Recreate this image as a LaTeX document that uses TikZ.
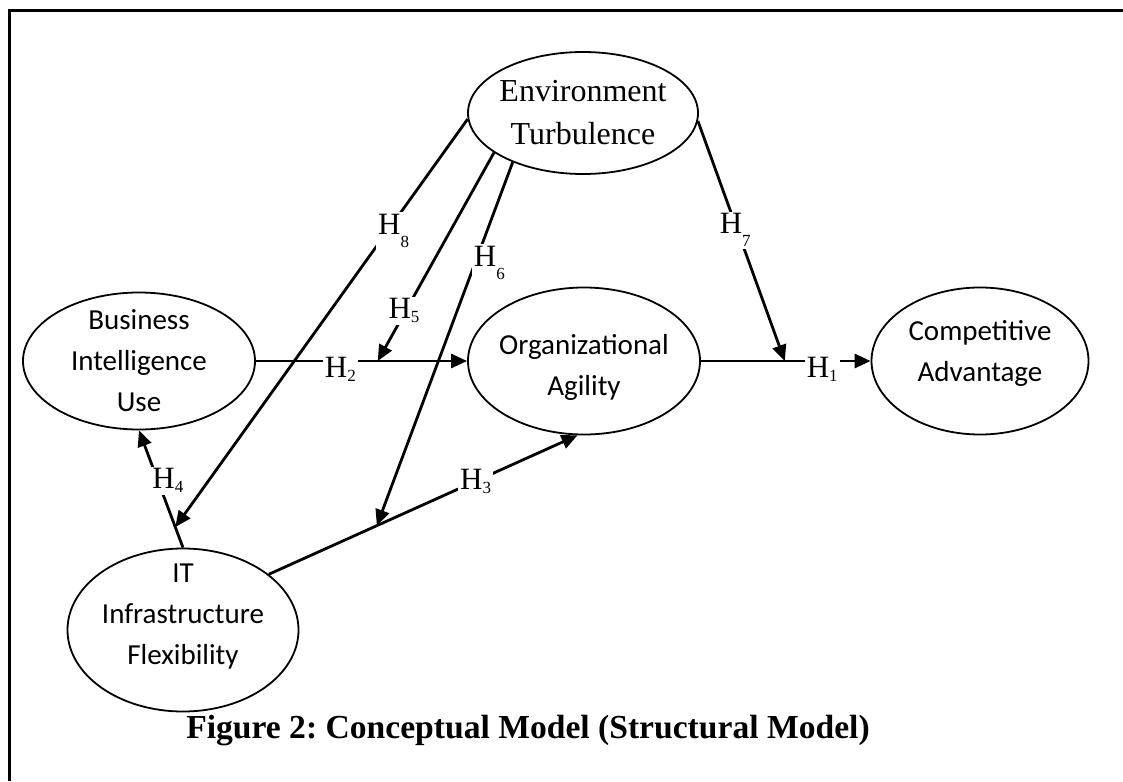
\documentclass[tikz,border=0pt]{standalone}
\usepackage{fontspec}
\setmainfont{Liberation Serif}
\newfontfamily\bodyfont{Carlito}
\usetikzlibrary{arrows.meta,calc,shapes.geometric}
\newcommand{\hyp}[1]{H\raisebox{-2pt}{\fontsize{8.5}{8.5}\selectfont#1}}
\newcommand{\hyplow}[1]{H\raisebox{-6.5pt}{\fontsize{8.5}{8.5}\selectfont#1}}
\frenchspacing
\begin{document}
\begin{tikzpicture}[x=0.5pt, y=-0.5pt,
  construct/.style={ellipse, draw, line width=0.9pt, inner sep=-8pt, align=center},
  sansbox/.style={construct, font=\bodyfont\fontsize{14.5}{20.5}\selectfont},
  serifbox/.style={construct, font=\fontsize{16}{21.5}\selectfont},
  link/.style={line width=1.4pt, -{Triangle[length=8pt,width=7pt]}},
  hlabel/.style={fill=white, inner sep=1pt, font=\fontsize{15.5}{15.5}\selectfont}]
  \useasboundingbox (0,0) rectangle (1123,781);
  \draw[line width=1.2pt] (9.5,781) |- (1123,10.5);
  \node[serifbox, minimum width=115pt, minimum height=61pt] (env) at (583,113) {Environment\\Turbulence};
  \node[sansbox, minimum width=116pt, minimum height=68.5pt] (bi) at (139,361) {Business\\Intelligence\\Use};
  \node[sansbox, minimum width=116pt, minimum height=73.5pt, text height=38pt, text depth=3.5pt] (oa) at (584,361) {Organizational\\Agility};
  \node[sansbox, minimum width=108.5pt, minimum height=73.5pt, text depth=10.5pt] (ca) at (980,361) {Competitive\\Advantage};
  \node[sansbox, minimum width=115.5pt, minimum height=81.5pt, text depth=15.5pt] (it) at (183,630) {IT\\Infrastructure\\Flexibility};
  \coordinate (m5) at ($(bi.east)!0.577!(oa.west)$);
  \coordinate (m7) at ($(oa.east)!0.494!(ca.west)$);
  \coordinate (m6) at ($(it.33)!0.35!(oa.265)$);
  \coordinate (m8) at ($(it.north)!0.175!(bi.south)$);
  \draw[link] (bi.east) -- node[hlabel, pos=0.40, yshift=-4pt] {\hyp{2}} (oa.west);
  \draw[link] (oa.east) -- node[hlabel, pos=0.715, yshift=-4pt] {\hyp{1}} (ca.west);
  \draw[link] (it.33) -- node[hlabel, pos=0.67] {\hyp{3}} (oa.265);
  \draw[link] (it.north) -- node[hlabel, pos=0.57, xshift=5pt] {\hyp{4}} (bi.south);
  \draw[link] (env.204) -- node[hlabel, pos=0.74, xshift=-2pt, yshift=-2pt] {\hyp{5}} (m5);
  \draw[link] (env.215) -- node[hlabel, pos=0.26, xshift=6pt, yshift=-3pt] {\hyplow{6}} (m6);
  \draw[link] (env.356) -- node[hlabel, pos=0.43, yshift=-3pt] {\hyplow{7}} (m7);
  \draw[link] (env.183) -- node[hlabel, pos=0.26, xshift=1pt, yshift=-3pt] {\hyplow{8}} (m8);
  \node[font=\bfseries\fontsize{16.8}{16.8}\selectfont] (caption) at (528,731) {Figure 2: Conceptual Model (Structural Model)};
\end{tikzpicture}
\end{document}
